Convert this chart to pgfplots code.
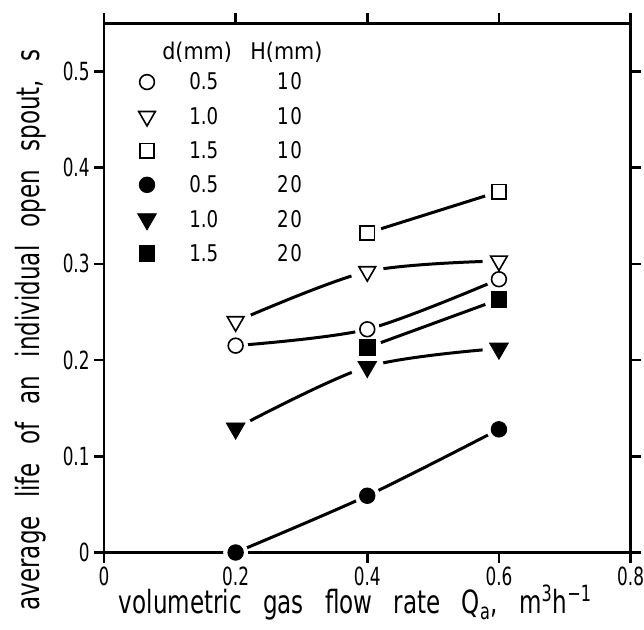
\documentclass[border=0pt]{standalone}
\usepackage{fontspec}
\setmainfont{DejaVu Sans Condensed}
\usepackage{graphicx}
\usepackage{pgfplots}
\usepackage{pgfplotstable}
\pgfplotsset{compat=1.18}
\newcommand\mylbl[1]{\scalebox{0.8}[1]{\fontsize{16}{19}\selectfont #1}}
\newcommand\mytkl[1]{\scalebox{0.75}[1]{#1}}
\newcommand\mylgt[1]{\scalebox{0.88}[1]{\fontsize{11.5}{14}\selectfont #1}}
\pgfplotstableread{
x y
0.2 0.215
0.4 0.232
0.6 0.284
}\tA
\pgfplotstableread{
x y
0.2 0.240
0.4 0.292
0.6 0.303
}\tB
\pgfplotstableread{
x y
0.4 0.332
0.6 0.375
}\tC
\pgfplotstableread{
x y
0.2 0.000
0.4 0.059
0.6 0.128
}\tD
\pgfplotstableread{
x y
0.2 0.129
0.4 0.193
0.6 0.212
}\tE
\pgfplotstableread{
x y
0.4 0.213
0.6 0.263
}\tF
\begin{document}
\begin{tikzpicture}
\begin{axis}[
  scale only axis, width=263.3pt, height=264.6pt,
  xmin=0, xmax=0.8, ymin=0, ymax=0.55,
  xtick={0,0.2,0.4,0.6,0.8},
  ytick={0,0.1,0.2,0.3,0.4,0.5},
  tick align=outside,
  major tick length=5pt,
  axis line style={line width=1.3pt},
  major tick style={black, line width=1.3pt},
  /pgf/number format/assume math mode=true,
  /pgf/number format/fixed, /pgf/number format/precision=1,
  ticklabel style={font=\fontsize{12.5}{14}\selectfont},
  xticklabel={\mytkl{\pgfmathprintnumber{\tick}}},
  yticklabel={\mytkl{\pgfmathprintnumber{\tick}}},
  xticklabel style={inner sep=0pt, yshift=-2pt},
  yticklabel style={inner sep=0pt, xshift=-2pt},
  clip=false, axis on top,
  xlabel={\mylbl{volumetric\hspace{13.3pt}gas\hspace{13.3pt}flow\hspace{13.3pt}rate\hspace{13.3pt}Q\textsubscript{a},\hspace{13.3pt}m\textsuperscript{3}h\textsuperscript{−1}}},
  ylabel={\mylbl{average\hspace{11.4pt}life\hspace{11.4pt}of\hspace{11.4pt}an\hspace{11.4pt}individual\hspace{11.4pt}open\hspace{11.4pt}spout,\hspace{11.4pt}s}},
  xlabel style={at={(axis description cs:0.4775,-0.1161)}, anchor=base, inner sep=0pt},
  ylabel style={at={(axis description cs:-0.1215,0.4204)}, anchor=base, inner sep=0pt},
  legend style={at={(axis description cs:0.0632,0.9221)}, anchor=north west, draw=none, fill=none, inner sep=0pt, row sep=0pt,
    nodes={inner sep=0pt, text height=9.15pt, text depth=7.98pt}},
  legend cell align=left,
]
\path (axis description cs:-0.19746,-0.14456) rectangle (axis description cs:1.02525,1.04403);
% legend header and columns
\node[anchor=base west, inner sep=0pt, font=\fontsize{11.5}{14}\selectfont] at (axis description cs:0.110,0.9325) {d(mm)};
\node[anchor=base west, inner sep=0pt, font=\fontsize{11.5}{14}\selectfont] at (axis description cs:0.2772,0.9325) {H(mm)};
\node[anchor=base west, inner sep=0pt] at (axis description cs:0.1614,0.87397) {\mylgt{0.5}};
\node[anchor=base west, inner sep=0pt] at (axis description cs:0.1614,0.80922) {\mylgt{1.0}};
\node[anchor=base west, inner sep=0pt] at (axis description cs:0.1614,0.74448) {\mylgt{1.5}};
\node[anchor=base west, inner sep=0pt] at (axis description cs:0.1614,0.67974) {\mylgt{0.5}};
\node[anchor=base west, inner sep=0pt] at (axis description cs:0.1614,0.61500) {\mylgt{1.0}};
\node[anchor=base west, inner sep=0pt] at (axis description cs:0.1614,0.55026) {\mylgt{1.5}};
\node[anchor=base west, inner sep=0pt] at (axis description cs:0.3279,0.87397) {\mylgt{1\kern1pt 0}};
\node[anchor=base west, inner sep=0pt] at (axis description cs:0.3279,0.80922) {\mylgt{1\kern1pt 0}};
\node[anchor=base west, inner sep=0pt] at (axis description cs:0.3279,0.74448) {\mylgt{1\kern1pt 0}};
\node[anchor=base west, inner sep=0pt] at (axis description cs:0.3279,0.67974) {\mylgt{2\kern1pt 0}};
\node[anchor=base west, inner sep=0pt] at (axis description cs:0.3279,0.61500) {\mylgt{2\kern1pt 0}};
\node[anchor=base west, inner sep=0pt] at (axis description cs:0.3279,0.55026) {\mylgt{2\kern1pt 0}};
% curves
\addplot[smooth, line width=1.5pt, forget plot] table {\tA};
\addplot[smooth, line width=1.5pt, forget plot] table {\tB};
\addplot[line width=1.5pt, forget plot] table {\tC};
\addplot[smooth, line width=1.5pt, forget plot] table {\tD};
\addplot[smooth, line width=1.5pt, forget plot] table {\tE};
\addplot[line width=1.5pt, forget plot] table {\tF};
% halos
\addplot[only marks, mark=*, mark size=6pt, mark options={draw=white, fill=white}, forget plot] table {\tA};
\addplot[only marks, mark=*, mark size=8pt, mark options={draw=white, fill=white}, forget plot] table {\tB};
\addplot[only marks, mark=*, mark size=7pt, mark options={draw=white, fill=white}, forget plot] table {\tC};
\addplot[only marks, mark=*, mark size=6pt, mark options={draw=white, fill=white}, forget plot] table {\tD};
\addplot[only marks, mark=*, mark size=8pt, mark options={draw=white, fill=white}, forget plot] table {\tE};
\addplot[only marks, mark=*, mark size=7pt, mark options={draw=white, fill=white}, forget plot] table {\tF};
% markers
\addplot[only marks, mark=*, mark size=3.7pt, mark options={black, fill=white, line width=0.8pt}] table {\tA};
\addlegendentry{\mbox{}}
\addplot[only marks, mark=triangle*, mark size=4.8pt, mark options={black, fill=white, line width=0.8pt, rotate=180}] table {\tB};
\addlegendentry{\mbox{}}
\addplot[only marks, mark=square*, mark size=3.6pt, mark options={black, fill=white, line width=0.8pt}] table {\tC};
\addlegendentry{\mbox{}}
\addplot[only marks, mark=*, mark size=3.9pt, mark options={black, fill=black}] table {\tD};
\addlegendentry{\mbox{}}
\addplot[only marks, mark=triangle*, mark size=5.4pt, mark options={black, fill=black, rotate=180}] table {\tE};
\addlegendentry{\mbox{}}
\addplot[only marks, mark=square*, mark size=3.9pt, mark options={black, fill=black}] table {\tF};
\addlegendentry{\mbox{}}
\end{axis}
\end{tikzpicture}
\end{document}
